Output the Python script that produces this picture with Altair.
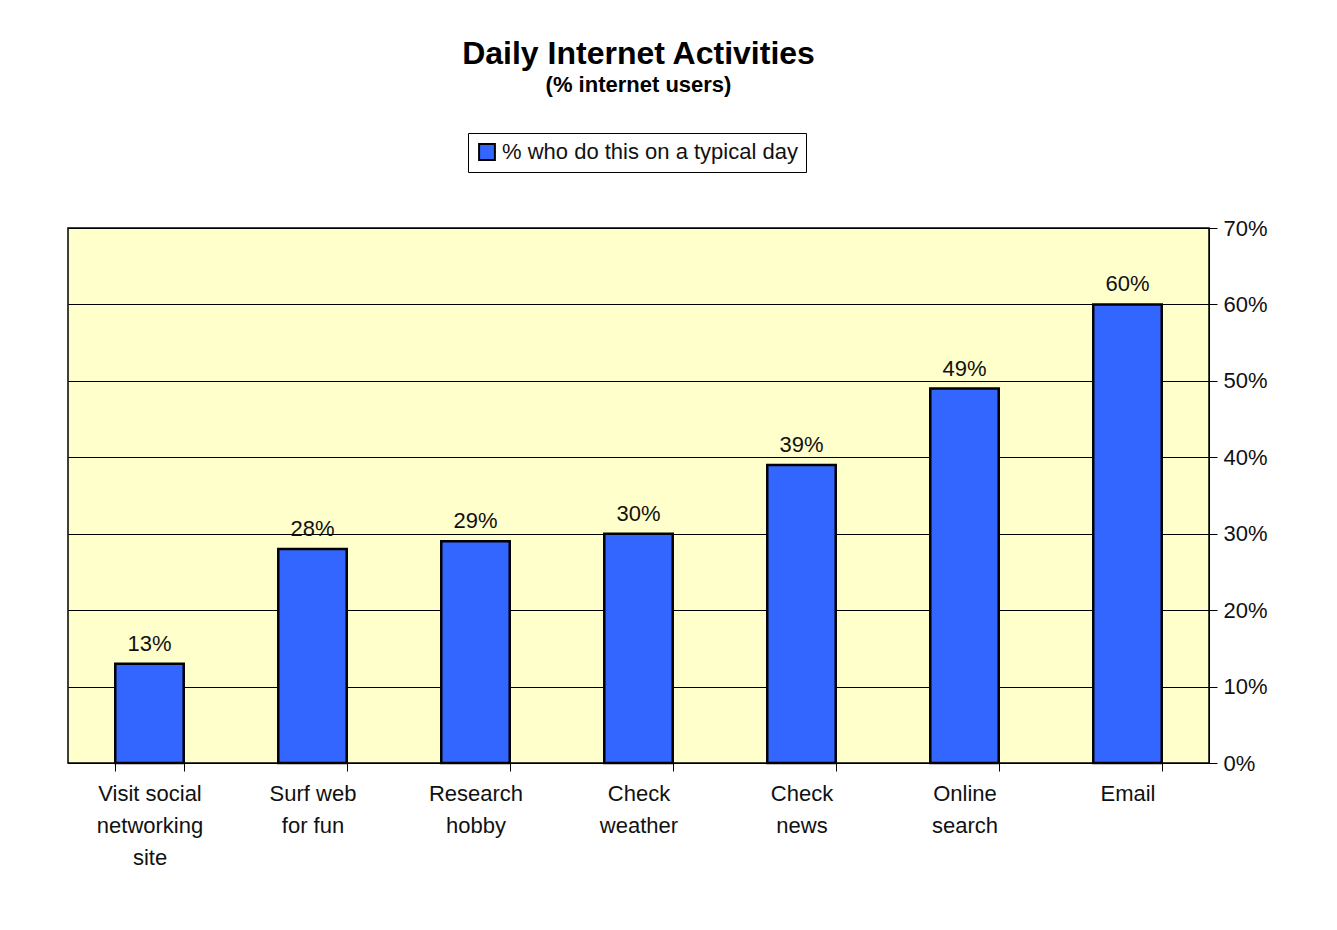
import altair as alt
import pandas as pd

categories = [
    "Visit social|networking|site",
    "Surf web|for fun",
    "Research|hobby",
    "Check|weather",
    "Check|news",
    "Online|search",
    "Email",
]
values = [0.13, 0.28, 0.29, 0.30, 0.39, 0.49, 0.60]
series_name = "% who do this on a typical day"
y_ticks = [0, 0.1, 0.2, 0.3, 0.4, 0.5, 0.6, 0.7]

df = pd.DataFrame({"activity": categories, "share": values, "series": series_name})

FONT = "Liberation Sans"

base = alt.Chart(df).encode(
    x=alt.X(
        "activity:N",
        sort=categories,
        title=None,
        axis=alt.Axis(
            labelExpr="split(datum.label, '|')",
            labelAngle=0,
            labelFontSize=22,
            labelColor="#111",
            labelFont=FONT,
            labelPadding=12,
            labelLineHeight=32,
            domainColor="#000",
            tickColor="#000",
            tickSize=8,
            tickBand="extent",
        ),
        scale=alt.Scale(paddingInner=0.58, paddingOuter=0.29),
    ),
    y=alt.Y(
        "share:Q",
        title=None,
        scale=alt.Scale(domain=[0, 0.7]),
        axis=alt.Axis(
            orient="right",
            format=".0%",
            values=y_ticks,
            labelFontSize=22,
            labelColor="#111",
            labelFont=FONT,
            gridColor="#000",
            gridOpacity=1,
            gridWidth=1,
            domainColor="#000",
            tickColor="#000",
            tickSize=8,
            labelPadding=6,
        ),
    ),
)

bars = base.mark_bar(stroke="#000", strokeWidth=2.5).encode(
    color=alt.Color(
        "series:N",
        scale=alt.Scale(range=["#3366FF"]),
        legend=alt.Legend(
            title=None,
            orient="none",
            legendX=400,
            legendY=-95,
            labelFontSize=22,
            labelFont=FONT,
            labelColor="#111",
            symbolType="square",
            symbolSize=250,
            symbolStrokeColor="#000",
            symbolStrokeWidth=2,
            strokeColor="#000",
            fillColor="#FFFFFF",
            padding=8,
            labelLimit=500,
        ),
    )
)

labels = base.mark_text(dy=-20, fontSize=22, font=FONT, color="#111").encode(
    text=alt.Text("share:Q", format=".0%")
)

chart = (
    (bars + labels)
    .properties(
        width=1300,
        height=900,
        background="#FFFFFF",
        autosize=alt.AutoSizeParams(type="fit", contains="padding"),
        padding={"left": 60, "right": 40, "top": 30, "bottom": 40},
        title=alt.TitleParams(
            text="Daily Internet Activities",
            subtitle="(% internet users)",
            fontSize=32,
            font=FONT,
            fontWeight="bold",
            color="#000",
            subtitleFontSize=22,
            subtitleFont=FONT,
            subtitleFontWeight="bold",
            subtitleColor="#000",
            anchor="middle",
            offset=120,
            subtitlePadding=4,
        ),
    )
    .configure_view(fill="#FFFFCC", stroke="#000", strokeWidth=1.5)
)

chart.save("out.html", embed_options={"renderer": "svg", "actions": False})
